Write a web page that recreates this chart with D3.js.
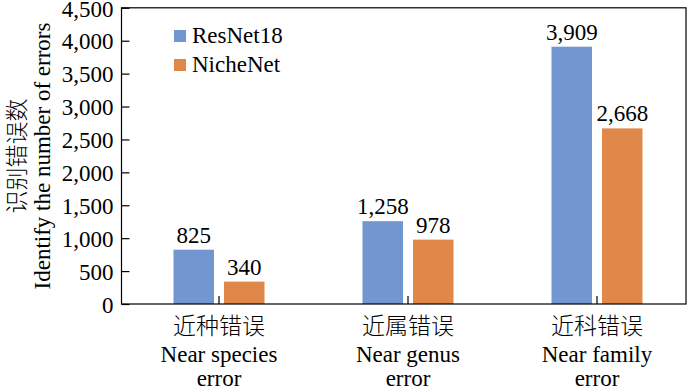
<!DOCTYPE html>
<html><head><meta charset="utf-8">
<script src="https://cdn.jsdelivr.net/npm/d3@7"></script>
<style>
html,body{margin:0;padding:0;background:#fff;}
svg text{font-family:"Liberation Serif","Times New Roman",serif;fill:#000;}
svg text.zh{font-family:"Noto Sans CJK SC","Noto Sans CJK JP",sans-serif;font-weight:300;}
</style></head>
<body>
<svg id="chart" width="693" height="388"></svg>
<script>
const categoriesZh = ["近种错误", "近属错误", "近科错误"];
const categoriesEn1 = ["Near species", "Near genus", "Near family"];
const categoriesEn2 = ["error", "error", "error"];
const seriesNames = ["ResNet18", "NicheNet"];
const resnet18 = [825, 1258, 3909];
const nichenet = [340, 978, 2668];
const yTicks = [0, 500, 1000, 1500, 2000, 2500, 3000, 3500, 4000, 4500];
const colors = ["#7196d0", "#e0874a"];

(function () {
const svg = d3.select("#chart");
const FS = 23;
const pL = 121.5, pR = 686, pT = 7.8, pB = 304;
const y = d3.scaleLinear().domain([0, 4500]).range([pB, pT]);
const x = d3.scaleBand().domain(d3.range(3)).range([124.5, 691.5]).paddingInner(0).paddingOuter(0);
const fmt = d3.format(",");
const series = [resnet18, nichenet];
const gap = 5, bw = 40.5;

series.forEach((vals, s) => {
  svg.append("g").selectAll("rect").data(vals).join("rect")
    .attr("x", (d, i) => {
      const c = x(i) + x.bandwidth() / 2;
      return s === 0 ? c - gap - bw : c + gap;
    })
    .attr("y", d => y(d))
    .attr("width", bw)
    .attr("height", d => pB - y(d))
    .attr("fill", colors[s]);
  svg.append("g").selectAll("text").data(vals).join("text")
    .attr("x", (d, i) => {
      const c = x(i) + x.bandwidth() / 2;
      return s === 0 ? c - gap - bw / 2 : c + gap + bw / 2;
    })
    .attr("y", d => y(d) - 7)
    .attr("text-anchor", "middle")
    .style("font-size", FS + "px")
    .text(d => fmt(d));
});

svg.append("rect").attr("x", pL).attr("y", pT).attr("width", pR - pL).attr("height", pB - pT)
  .attr("fill", "none").attr("stroke", "#000").attr("stroke-width", 1.2);

const yAxis = d3.axisLeft(y).tickValues(yTicks).tickFormat(fmt).tickSizeInner(-8).tickSizeOuter(0).tickPadding(8);
const gy = svg.append("g").attr("transform", `translate(${pL},0)`).call(yAxis);
gy.select(".domain").remove();
gy.selectAll("line").attr("stroke", "#000").attr("stroke-width", 1.2);
gy.selectAll("text").style("font-size", FS + "px").attr("dy", "0.36em");

const xAxis = d3.axisBottom(x).tickSizeInner(-8).tickSizeOuter(0).tickFormat("");
const gx = svg.append("g").attr("transform", `translate(0,${pB})`).call(xAxis);
gx.select(".domain").remove();
gx.selectAll("line").attr("stroke", "#000").attr("stroke-width", 1.2);

const xl = svg.append("g");
d3.range(3).forEach(i => {
  const c = x(i) + x.bandwidth() / 2;
  xl.append("text").attr("class", "zh").attr("x", c).attr("y", 334).attr("text-anchor", "middle")
    .style("font-size", FS + "px").text(categoriesZh[i]);
  xl.append("text").attr("x", c).attr("y", 361.5).attr("text-anchor", "middle").style("font-size", FS + "px").text(categoriesEn1[i]);
  xl.append("text").attr("x", c).attr("y", 386).attr("text-anchor", "middle").style("font-size", FS + "px").text(categoriesEn2[i]);
});

const yt = svg.append("g").attr("transform", "translate(0,156) rotate(-90)");
yt.append("text").attr("class", "zh").attr("x", 0).attr("y", 25).attr("text-anchor", "middle")
  .style("font-size", FS + "px").text("识别错误数");
yt.append("text").attr("x", 0).attr("y", 50).attr("text-anchor", "middle").style("font-size", FS + "px").text("Identify the number of errors");

const lg = svg.append("g");
seriesNames.forEach((n, s) => {
  lg.append("rect").attr("x", 174).attr("y", 30 + s * 29).attr("width", 12).attr("height", 12).attr("fill", colors[s]);
  lg.append("text").attr("x", 192).attr("y", 42.5 + s * 29).style("font-size", FS + "px").text(n);
});
})();
</script>
</body></html>
